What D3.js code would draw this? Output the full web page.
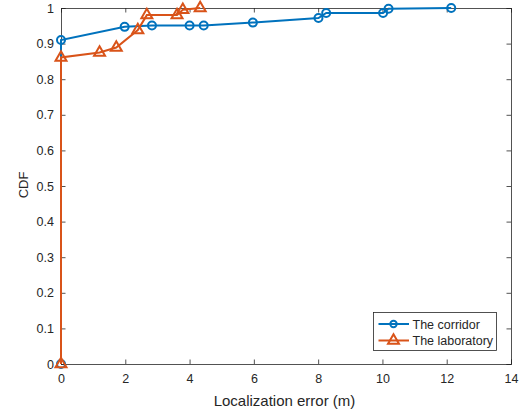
<!DOCTYPE html>
<html>
<head>
<meta charset="utf-8">
<script src="https://cdn.jsdelivr.net/npm/d3@7"></script>
<style>
  body { margin: 0; background: #fff; }
  svg { display: block; font-family: "Liberation Sans", Arial, sans-serif; }
</style>
</head>
<body>
<div id="chart"></div>
<script>
// corridor CDF samples
const corridorX = [0, 0, 1.98, 2.83, 4.0, 4.44, 5.97, 8.01, 8.25, 10.02, 10.19, 12.14];
const corridorY = [0, 0.91, 0.947, 0.951, 0.951, 0.951, 0.959, 0.972, 0.986, 0.986, 0.998, 1.0];
// laboratory CDF samples
const labX = [0, 0, 1.2, 1.72, 2.39, 2.67, 3.61, 3.79, 4.33];
const labY = [0, 0.861, 0.875, 0.889, 0.938, 0.98, 0.98, 0.995, 1.0];

const xTicks = [0, 2, 4, 6, 8, 10, 12, 14];
const yTicks = [0, 0.1, 0.2, 0.3, 0.4, 0.5, 0.6, 0.7, 0.8, 0.9, 1];
const seriesNames = ["The corridor", "The laboratory"];

const width = 523, height = 413;
const margin = { left: 61, right: 12, top: 8, bottom: 49 };
const axisColor = "#262626";
const blue = "#0072BD", orange = "#D95319";

const svg = d3.select("#chart").append("svg")
  .attr("width", width)
  .attr("height", height);

const x = d3.scaleLinear().domain([0, 14]).range([margin.left, width - margin.right]);
const y = d3.scaleLinear().domain([0, 1]).range([height - margin.bottom, margin.top]);

const toPts = (xs, ys) => xs.map((v, i) => ({ x: v, y: ys[i] }));
const corridor = toPts(corridorX, corridorY);
const lab = toPts(labX, labY);

const line = d3.line().x(d => x(d.x)).y(d => y(d.y));

// axes (ticks inside, box on)
const tickLen = 4.5;
const g = svg.append("g");
g.append("g")
  .attr("transform", `translate(0,${y(0)})`)
  .call(d3.axisBottom(x).tickValues(xTicks).tickSize(-tickLen).tickPadding(10).tickFormat(d3.format("d")));
g.append("g")
  .attr("transform", `translate(0,${y(1)})`)
  .call(d3.axisTop(x).tickValues(xTicks).tickSize(-tickLen).tickFormat(""));
g.append("g")
  .attr("transform", `translate(${x(0)},0)`)
  .call(d3.axisLeft(y).tickValues(yTicks).tickSize(-tickLen).tickPadding(7).tickFormat(d => d === 0 || d === 1 ? d3.format("d")(d) : d3.format(".1f")(d)));
g.append("g")
  .attr("transform", `translate(${x(14)},0)`)
  .call(d3.axisRight(y).tickValues(yTicks).tickSize(-tickLen).tickFormat(""));

g.selectAll(".domain").attr("stroke", axisColor).attr("stroke-width", 0.8);
g.selectAll(".tick line").attr("stroke", axisColor).attr("stroke-width", 0.8);
g.selectAll(".tick text").attr("fill", axisColor).attr("font-size", 12.5)
  .attr("font-family", "Liberation Sans, Arial, sans-serif");

// labels
svg.append("text")
  .attr("x", 284.5).attr("y", 406)
  .attr("text-anchor", "middle").attr("font-size", 15).attr("fill", axisColor)
  .text("Localization error (m)");
svg.append("text")
  .attr("transform", `translate(28,${(y(0) + y(1)) / 2 - 1}) rotate(-90)`)
  .attr("text-anchor", "middle").attr("font-size", 13).attr("fill", axisColor)
  .text("CDF");

const tri = d3.symbol().type(d3.symbolTriangle).size(52);

function drawSeries(data, color, marker) {
  svg.append("path").datum(data)
    .attr("d", line).attr("fill", "none")
    .attr("stroke", color).attr("stroke-width", 2);
  const m = svg.append("g");
  if (marker === "o") {
    m.selectAll("circle").data(data).join("circle")
      .attr("cx", d => x(d.x)).attr("cy", d => y(d.y)).attr("r", 4)
      .attr("fill", "none").attr("stroke", color).attr("stroke-width", 2);
  } else {
    m.selectAll("path").data(data).join("path")
      .attr("d", tri)
      .attr("transform", d => `translate(${x(d.x)},${y(d.y)})`)
      .attr("fill", "none").attr("stroke", color).attr("stroke-width", 2);
  }
}
drawSeries(corridor, blue, "o");
drawSeries(lab, orange, "^");

// legend
const lg = svg.append("g").attr("transform", "translate(373.5,312.5)");
lg.append("rect").attr("width", 123).attr("height", 38)
  .attr("fill", "#fff").attr("stroke", axisColor).attr("stroke-width", 0.8);
const entries = [[seriesNames[0], blue, "o"], [seriesNames[1], orange, "^"]];
entries.forEach(([name, color, marker], i) => {
  const cy = 11.5 + i * 16.5;
  lg.append("line").attr("x1", 5).attr("x2", 35.5).attr("y1", cy).attr("y2", cy)
    .attr("stroke", color).attr("stroke-width", 2);
  if (marker === "o") {
    lg.append("circle").attr("cx", 20).attr("cy", cy).attr("r", 3.2)
      .attr("fill", "none").attr("stroke", color).attr("stroke-width", 2);
  } else {
    lg.append("path").attr("d", tri).attr("transform", `translate(20,${cy})`)
      .attr("fill", "none").attr("stroke", color).attr("stroke-width", 2);
  }
  lg.append("text").attr("x", 39).attr("y", cy + 4.5)
    .attr("font-size", 12.5).attr("fill", axisColor).text(name);
});
</script>
</body>
</html>
